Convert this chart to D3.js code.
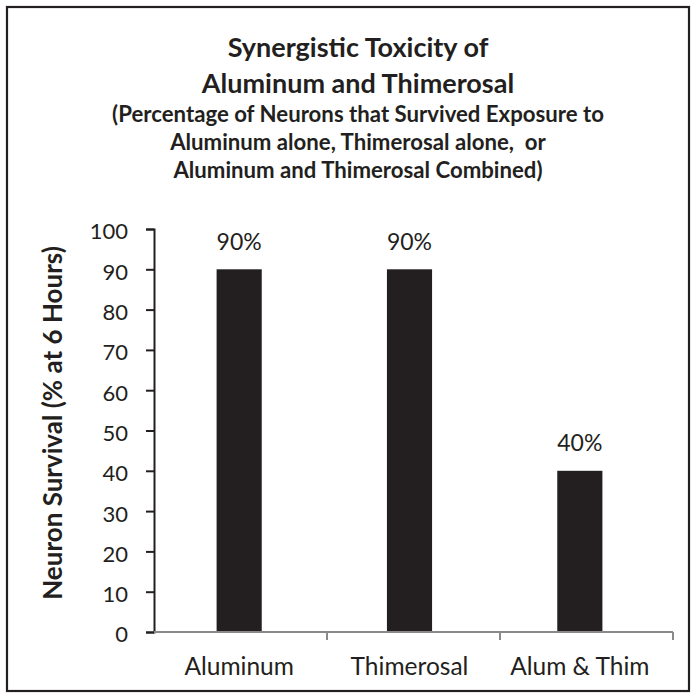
<!DOCTYPE html>
<html>
<head>
<meta charset="utf-8">
<script src="https://cdn.jsdelivr.net/npm/d3@7"></script>
<style>
  html, body { margin: 0; padding: 0; background: #fff; }
  svg { display: block; font-family: Lato, "Open Sans", sans-serif; }
</style>
</head>
<body>
<svg id="chart" width="696" height="698"></svg>
<script>
const categories = ['Aluminum', 'Thimerosal', 'Alum & Thim'];
const survival = [90, 90, 40];
const barLabels = ['90%', '90%', '40%'];
const yTicks = [0, 10, 20, 30, 40, 50, 60, 70, 80, 90, 100];
const titleLines = ['Synergistic Toxicity of', 'Aluminum and Thimerosal'];
const subtitleLines = [
  '(Percentage of Neurons that Survived Exposure to',
  'Aluminum alone, Thimerosal alone,  or',
  'Aluminum and Thimerosal Combined)',
];
const yTitle = 'Neuron Survival (% at 6 Hours)';

const ink = '#231f20';
const axisGray = '#8a8a8a';

const svg = d3.select('#chart');
const plot = { left: 154, right: 673, top: 229, bottom: 632 };

// frame
svg.append('rect')
  .attr('x', 7).attr('y', 7)
  .attr('width', 682).attr('height', 684)
  .attr('fill', 'none').attr('stroke', ink).attr('stroke-width', 2.2);

// titles
const titleX = 358;
svg.append('g').selectAll('text')
  .data(titleLines)
  .join('text')
  .attr('x', titleX)
  .attr('y', (d, i) => 57 + i * 36)
  .attr('text-anchor', 'middle')
  .attr('font-size', 27)
  .attr('font-weight', 700)
  .attr('fill', ink)
  .text((d) => d);

svg.append('g').selectAll('text')
  .data(subtitleLines)
  .join('text')
  .attr('x', titleX)
  .attr('y', (d, i) => 122 + i * 28)
  .attr('text-anchor', 'middle')
  .attr('font-size', 22.2)
  .attr('font-weight', 700)
  .attr('fill', ink)
  .style('white-space', 'pre')
  .text((d) => d);

const y = d3.scaleLinear().domain([0, 100]).range([plot.bottom, plot.top]);

// category divisions on the axis and slightly narrower spacing for the bars
const xAxisScale = d3.scaleBand().domain(categories).range([plot.left, plot.right]);
const xBar = d3.scaleBand().domain(categories).range([plot.left, plot.right - 8]).paddingInner(0.735).paddingOuter(0.3675);

// y axis
const yAxis = svg.append('g')
  .attr('transform', `translate(${plot.left},0)`)
  .call(d3.axisLeft(y).tickValues(yTicks).tickSize(8).tickPadding(18));
yAxis.select('.domain').attr('stroke', ink).attr('stroke-width', 2);
yAxis.selectAll('.tick line').attr('stroke', ink).attr('stroke-width', 2);
yAxis.selectAll('.tick text')
  .attr('fill', ink)
  .attr('font-size', 22)
  .attr('font-family', 'Lato, sans-serif')
  .attr('dy', '0.45em');

// bars
svg.append('g').selectAll('rect')
  .data(survival)
  .join('rect')
  .attr('x', (d, i) => xBar(categories[i]))
  .attr('y', (d) => y(d))
  .attr('width', xBar.bandwidth())
  .attr('height', (d) => y(0) - y(d))
  .attr('fill', ink);

// bar value labels
svg.append('g').selectAll('text')
  .data(survival)
  .join('text')
  .attr('x', (d, i) => xBar(categories[i]) + xBar.bandwidth() / 2)
  .attr('y', (d) => y(d) - 19.5)
  .attr('text-anchor', 'middle')
  .attr('font-size', 23)
  .attr('fill', ink)
  .text((d, i) => barLabels[i]);

// x axis: boundaries between categories
const boundaries = [plot.left, ...categories.map((c) => xAxisScale(c) + xAxisScale.bandwidth())];
svg.append('line')
  .attr('x1', plot.left).attr('x2', plot.right)
  .attr('y1', y(0)).attr('y2', y(0))
  .attr('stroke', axisGray).attr('stroke-width', 2);
svg.append('g').selectAll('line')
  .data(boundaries.slice(1))
  .join('line')
  .attr('x1', (d) => d).attr('x2', (d) => d)
  .attr('y1', y(0)).attr('y2', y(0) + 8)
  .attr('stroke', axisGray).attr('stroke-width', 2);

// category labels
svg.append('g').selectAll('text')
  .data(categories)
  .join('text')
  .attr('x', (d) => xBar(d) + xBar.bandwidth() / 2)
  .attr('y', 675)
  .attr('text-anchor', 'middle')
  .attr('font-size', 24.5)
  .attr('fill', ink)
  .text((d) => d);

// y axis title
svg.append('text')
  .attr('transform', `translate(62,${423}) rotate(-90)`)
  .attr('text-anchor', 'middle')
  .attr('font-size', 26)
  .attr('font-weight', 700)
  .attr('fill', ink)
  .text(yTitle);
</script>
</body>
</html>
